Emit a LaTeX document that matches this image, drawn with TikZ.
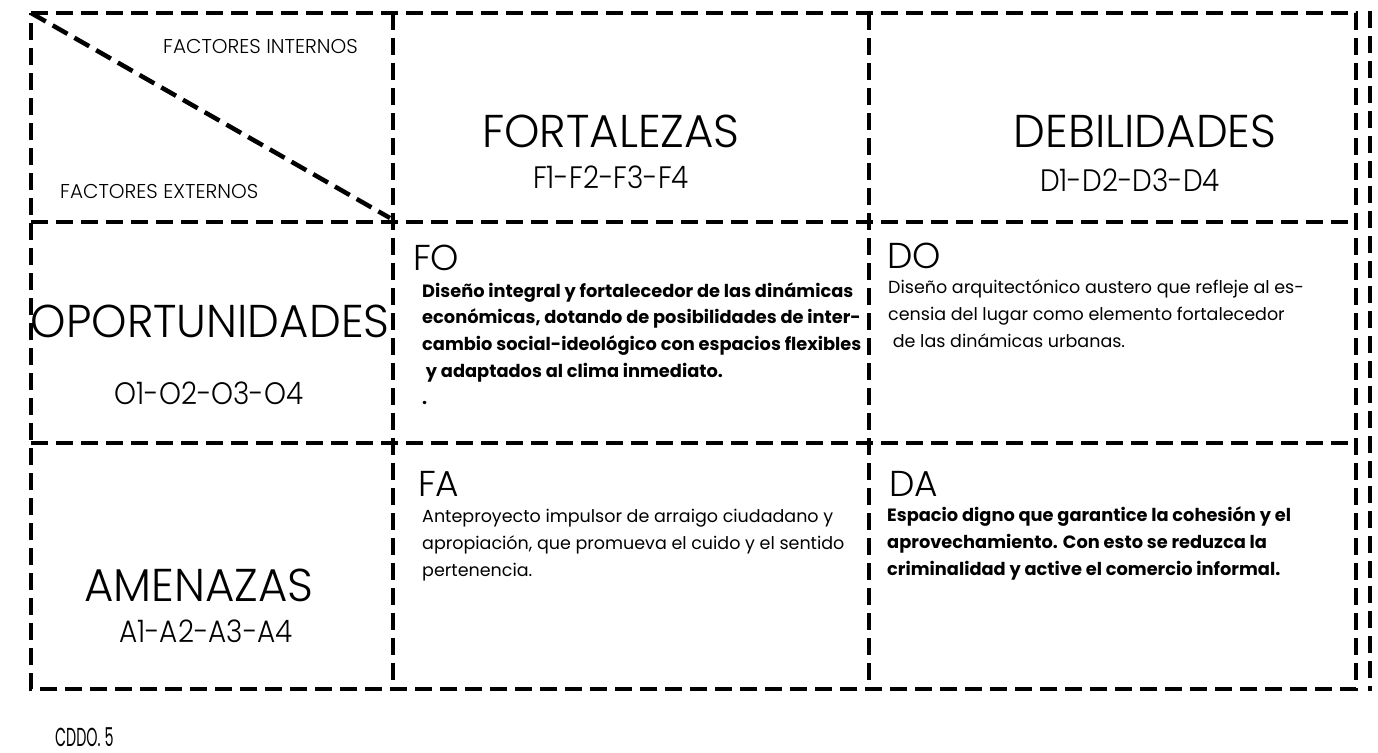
\documentclass[tikz,border=0pt]{standalone}
\usepackage{fontspec}
\setmainfont{Poppins}
\IfFontExistsTF{Poppins Light}{%
  \newfontfamily\ttlfont[FakeStretch=0.98]{Poppins Light}%
  \newfontfamily\codefont[FakeStretch=0.9]{Poppins Light}%
  \newfontfamily\lightfont{Poppins Light}}{%
  \newfontfamily\ttlfont[FakeStretch=0.98]{Poppins}%
  \newfontfamily\codefont[FakeStretch=0.9]{Poppins}%
  \newfontfamily\lightfont{Poppins}}
\newfontfamily\bodyfont{Poppins}
\newfontfamily\boldfont{Poppins}[UprightFont=*-Bold]
\newfontfamily\condfont[FakeStretch=0.55]{Poppins}
\begin{document}
\begin{tikzpicture}[x=1pt,y=-1pt,
  grid/.style={line width=4.5pt, dash pattern=on 17pt off 8pt, black},
  ttl/.style={inner sep=0pt, anchor=base, font=\ttlfont\fontsize{46}{46}\selectfont},
  code/.style={inner sep=0pt, anchor=base, font=\codefont\fontsize{31}{31}\selectfont},
  small/.style={inner sep=0pt, anchor=base west, font=\lightfont\fontsize{20}{20}\selectfont},
  cellhd/.style={inner sep=0pt, anchor=base west, font=\lightfont\fontsize{36}{36}\selectfont},
  bodyb/.style={inner sep=0pt, anchor=base west, align=left, font=\boldfont\fontsize{17.8}{26.7}\selectfont},
  bodyr/.style={inner sep=0pt, anchor=base west, align=left, font=\bodyfont\fontsize{17.5}{26.7}\selectfont}]
\useasboundingbox (0,0) rectangle (1378,752);
% grid coordinates
\coordinate (tl) at (31,13);
\coordinate (tr) at (1356,13);
\coordinate (bl) at (31,689);
\coordinate (br) at (1356,689);
\coordinate (c1t) at (393,13);
\coordinate (c1b) at (393,689);
\coordinate (c2t) at (869,13);
\coordinate (c2b) at (869,689);
\coordinate (r1l) at (31,222);
\coordinate (r1r) at (1356,222);
\coordinate (r2l) at (31,443);
\coordinate (r2r) at (1356,443);
\coordinate (ot) at (1370,11);
\coordinate (ob) at (1370,691);
\coordinate (dg) at (390,218);
% outer frame and grid
\draw[grid] (tl) -- (tr) -- (br) -- (bl) -- cycle;
\draw[grid] (c1t) -- (c1b);
\draw[grid] (c2t) -- (c2b);
\draw[grid] (r1l) -- (r1r);
\draw[grid] (r2l) -- (r2r);
\draw[grid] (ot) -- (ob);
\draw[grid] (tl) -- (dg);
% corner labels
\node[small] (fi) at (163,53) {FACTORES INTERNOS};
\node[small] (fe) at (60,198) {FACTORES EXTERNOS};
% column headings
\node[ttl] (fort) at (611,147) {FORTALEZAS};
\node[code] (fcod) at (611,188) {F1-F2-F3-F4};
\node[ttl] (debi) at (1145,147) {DEBILIDADES};
\node[code] (dcod) at (1130,191) {D1-D2-D3-D4};
% row headings
\node[ttl] (opor) at (210,337) {OPORTUNIDADES};
\node[code] (ocod) at (209,404) {O1-O2-O3-O4};
\node[ttl] (amen) at (199,601) {AMENAZAS};
\node[code] (acod) at (206,642) {A1-A2-A3-A4};
% cells
\node[cellhd] (fo) at (413,270) {FO};
\node[bodyb] (fotx) at (422,404) {Diseño integral y fortalecedor de las dinámicas\\económicas, dotando de posibilidades de inter-\\cambio social-ideológico con espacios flexibles\\\ y adaptados al clima inmediato.\\.};
\node[cellhd] (do) at (887,268) {DO};
\node[bodyr] (dotx) at (888,347) {Diseño arquitectónico austero que refleje al es-\\censia del lugar como elemento fortalecedor\\\ de las dinámicas urbanas.};
\node[cellhd] (fa) at (418,496) {FA};
\node[bodyr] (fatx) at (422,576) {Anteproyecto impulsor de arraigo ciudadano y\\apropiación, que promueva el cuido y el sentido\\pertenencia.};
\node[cellhd] (da) at (889,496) {DA};
\node[bodyb] (datx) at (887,575) {Espacio digno que garantice la cohesión y el\\aprovechamiento. Con esto se reduzca la\\criminalidad y active el comercio informal.};
% caption
\node[inner sep=0pt, anchor=base west, font=\condfont\fontsize{26}{26}\selectfont] (cap) at (55,746) {CDDO. 5};
\end{tikzpicture}
\end{document}
